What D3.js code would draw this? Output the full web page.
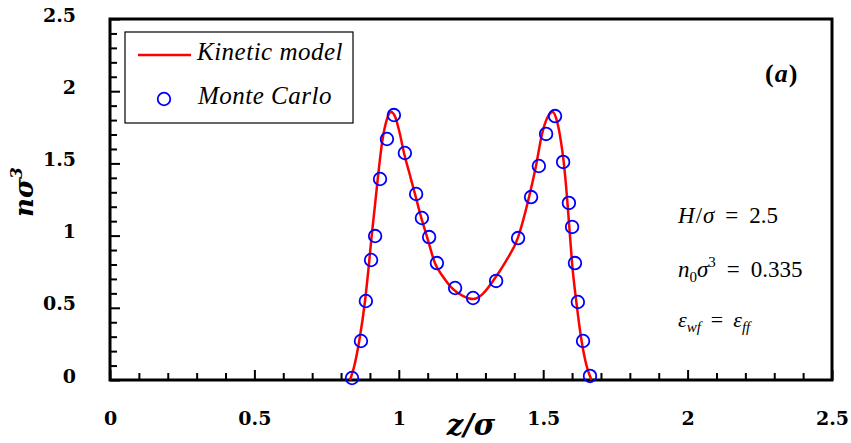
<!DOCTYPE html>
<html>
<head>
<meta charset="utf-8">
<script src="https://cdn.jsdelivr.net/npm/d3@7"></script>
<style>
    body { margin: 0; background: #fff; }
    svg { display: block; }
    .tick-label { font-family: 'DejaVu Serif', serif; font-weight: bold; font-size: 19px; }
    .math { font-family: 'Liberation Serif', serif; }
</style>
</head>
<body>
<svg id="chart" width="851" height="443"></svg>
<script>
// Kinetic model curve
const modelZ = [0.831, 0.845, 0.863, 0.883, 0.895, 0.906, 0.917, 0.927, 0.944, 0.958, 0.973, 0.988,
    1.003, 1.018, 1.037, 1.056, 1.077, 1.098, 1.125, 1.155, 1.184, 1.22, 1.257, 1.29, 1.326, 1.37,
    1.412, 1.451, 1.475, 1.496, 1.515, 1.533, 1.548, 1.56, 1.571, 1.581, 1.59, 1.6, 1.616, 1.633,
    1.65, 1.667];
const modelN = [0, 0.09, 0.27, 0.547, 0.77, 0.997, 1.2, 1.392, 1.669, 1.8, 1.856, 1.82,
    1.71, 1.572, 1.43, 1.288, 1.13, 0.99, 0.81, 0.71, 0.637, 0.585, 0.561, 0.595, 0.686, 0.82,
    0.983, 1.267, 1.482, 1.704, 1.82, 1.856, 1.79, 1.67, 1.51, 1.3, 1.07, 0.81, 0.52, 0.27,
    0.1, 0];

// Monte Carlo points
const mcZ = [0.838, 0.869, 0.886, 0.904, 0.918, 0.935, 0.959, 0.983, 1.021, 1.06, 1.08, 1.105,
    1.132, 1.195, 1.257, 1.337, 1.413, 1.458, 1.485, 1.51, 1.541, 1.569, 1.589, 1.6, 1.61,
    1.62, 1.638, 1.662];
const mcN = [0.014, 0.27, 0.547, 0.831, 0.997, 1.392, 1.669, 1.835, 1.572, 1.288, 1.122, 0.99,
    0.81, 0.637, 0.568, 0.686, 0.983, 1.267, 1.482, 1.704, 1.828, 1.51, 1.226, 1.06, 0.81,
    0.54, 0.27, 0.028];

const xMajor = [0, 0.5, 1, 1.5, 2, 2.5];
const yMajor = [0, 0.5, 1, 1.5, 2, 2.5];
const minorTicks = d3.range(0, 26).map(i => i / 10);

const margin = { left: 110, top: 19, right: 19, bottom: 63 };
const width = 851, height = 443;

const svg = d3.select('#chart');

const x = d3.scaleLinear().domain([0, 2.5]).range([margin.left, width - margin.right]);
const y = d3.scaleLinear().domain([0, 2.5]).range([height - margin.bottom, margin.top]);

const fmt = d => d === 0 ? '0' : String(d);
const isMajor = d => Math.abs(d * 2 - Math.round(d * 2)) < 1e-6;

// minor + major ticks pointing inward
svg.append('g')
    .attr('transform', `translate(0,${y(0)})`)
    .call(d3.axisBottom(x).tickValues(minorTicks).tickSize(0).tickFormat(''))
    .call(g => g.select('.domain').remove())
    .call(g => g.selectAll('.tick line')
        .attr('y2', d => isMajor(d) ? -10 : -7)
        .attr('stroke', '#000').attr('stroke-width', 2));

svg.append('g')
    .attr('transform', `translate(${x(0)},0)`)
    .call(d3.axisLeft(y).tickValues(minorTicks).tickSize(0).tickFormat(''))
    .call(g => g.select('.domain').remove())
    .call(g => g.selectAll('.tick line')
        .attr('x2', d => isMajor(d) ? 10 : 7)
        .attr('stroke', '#000').attr('stroke-width', 2));

// tick labels
svg.append('g')
    .attr('transform', `translate(0,${y(0)})`)
    .call(d3.axisBottom(x).tickValues(xMajor).tickSize(0).tickPadding(32).tickFormat(fmt))
    .call(g => g.select('.domain').remove())
    .call(g => g.selectAll('text').attr('class', 'tick-label').attr('fill', '#000'));

svg.append('g')
    .attr('transform', `translate(${x(0) - 34},0)`)
    .call(d3.axisLeft(y).tickValues(yMajor).tickSize(0).tickPadding(0).tickFormat(fmt))
    .call(g => g.select('.domain').remove())
    .call(g => g.selectAll('text').attr('class', 'tick-label').attr('fill', '#000').attr('y', -4));

// frame
svg.append('rect')
    .attr('x', x(0)).attr('y', y(2.5))
    .attr('width', x(2.5) - x(0)).attr('height', y(0) - y(2.5))
    .attr('fill', 'none').attr('stroke', '#000').attr('stroke-width', 3);

// curve
const line = d3.line()
    .x((d, i) => x(modelZ[i]))
    .y(d => y(d))
    .curve(d3.curveMonotoneX);

svg.append('path')
    .datum(modelN)
    .attr('d', line)
    .attr('fill', 'none')
    .attr('stroke', '#ff0000')
    .attr('stroke-width', 2.5);

svg.append('g')
    .selectAll('circle')
    .data(mcN)
    .enter()
    .append('circle')
    .attr('cx', (d, i) => x(mcZ[i]))
    .attr('cy', d => y(d))
    .attr('r', 6.3)
    .attr('fill', 'none')
    .attr('stroke', '#0000ff')
    .attr('stroke-width', 1.8);

// legend
const legend = svg.append('g');
legend.append('rect')
    .attr('x', 125).attr('y', 32).attr('width', 228).attr('height', 91)
    .attr('fill', '#fff').attr('stroke', '#000').attr('stroke-width', 1.2);
legend.append('line')
    .attr('x1', 138).attr('x2', 191).attr('y1', 55).attr('y2', 55)
    .attr('stroke', '#ff0000').attr('stroke-width', 2.5);
legend.append('circle')
    .attr('cx', 164).attr('cy', 99).attr('r', 6.3)
    .attr('fill', 'none').attr('stroke', '#0000ff').attr('stroke-width', 1.8);
legend.append('text')
    .attr('class', 'math').attr('x', 197).attr('y', 60)
    .style('font-style', 'italic').style('font-size', '25px').style('letter-spacing', '0.5px')
    .text('Kinetic model');
legend.append('text')
    .attr('class', 'math').attr('x', 198).attr('y', 104)
    .style('font-style', 'italic').style('font-size', '25px').style('letter-spacing', '0.5px')
    .text('Monte Carlo');

// axis titles
svg.append('text')
    .attr('x', 471).attr('y', 435)
    .attr('text-anchor', 'middle')
    .style('font-family', 'DejaVu Serif').style('font-weight', 'bold')
    .style('font-style', 'italic').style('font-size', '29px')
    .text('z/σ');

const ytitle = svg.append('text')
    .attr('transform', 'translate(33,192) rotate(-90)')
    .attr('text-anchor', 'middle')
    .style('font-family', 'DejaVu Serif').style('font-weight', 'bold')
    .style('font-style', 'italic').style('font-size', '26px');
ytitle.append('tspan').text('nσ');
ytitle.append('tspan').attr('dy', -11).style('font-size', '17px').text('3');

// math annotations
function mathText(px, py, size, parts) {
    const t = svg.append('text').attr('class', 'math')
        .attr('x', px).attr('y', py).style('font-size', size + 'px');
    parts.forEach(p => {
        t.append('tspan')
            .attr('dx', p.dx || 0)
            .attr('dy', p.dy || 0)
            .style('font-style', p.it ? 'italic' : 'normal')
            .style('font-weight', p.bold ? 'bold' : 'normal')
            .style('font-size', (p.size || size) + 'px')
            .text(p.t);
    });
    return t;
}

mathText(765, 82, 26, [
    { t: '(', bold: true },
    { t: 'a', it: true, bold: true, dx: 1 },
    { t: ')', bold: true, dx: 1 }
]);

mathText(678, 223, 23, [
    { t: 'H', it: true },
    { t: '/', dx: 1 },
    { t: 'σ', it: true, dx: 1 },
    { t: '=', dx: 11 },
    { t: '2.5', dx: 11 }
]);

mathText(678, 277, 23, [
    { t: 'n', it: true },
    { t: '0', size: 15, dy: 5 },
    { t: 'σ', it: true, dy: -5 },
    { t: '3', size: 15, dy: -10 },
    { t: '=', dx: 11, dy: 10 },
    { t: '0.335', dx: 11 }
]);

mathText(678, 327, 22, [
    { t: 'ε', it: true },
    { t: 'wf', it: true, size: 15, dy: 5 },
    { t: '=', dx: 10, dy: -5 },
    { t: 'ε', it: true, dx: 10 },
    { t: 'ff', it: true, size: 15, dy: 5 }
]);
</script>
</body>
</html>
